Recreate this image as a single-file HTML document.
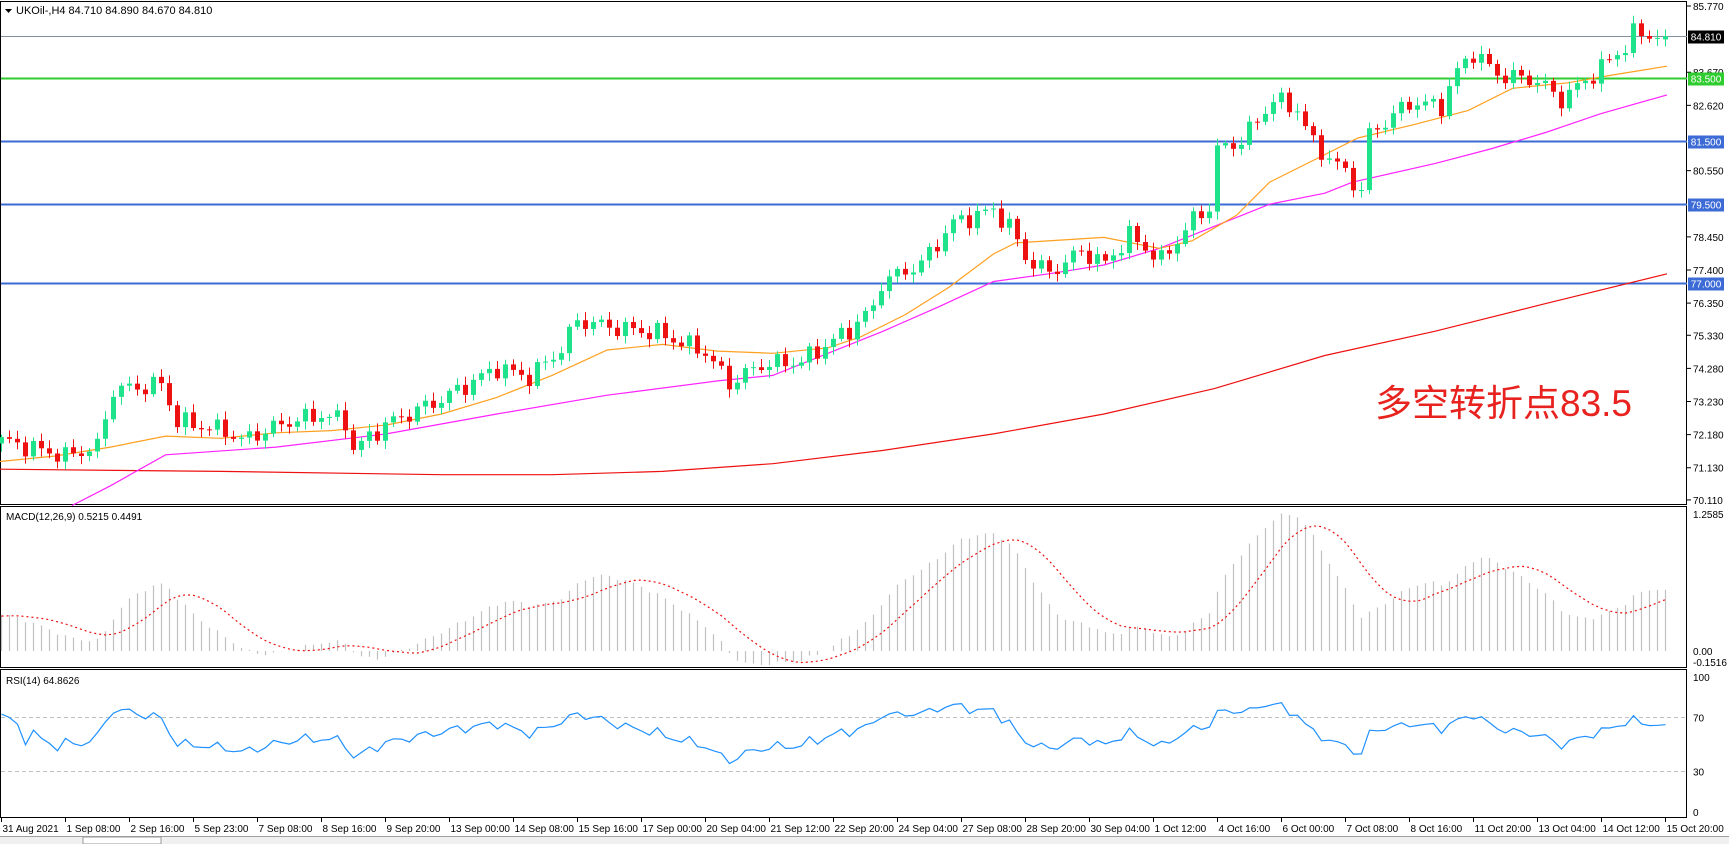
<!DOCTYPE html>
<html><head><meta charset="utf-8"><style>
html,body{margin:0;padding:0;background:#fff;width:1729px;height:844px;overflow:hidden}
svg{display:block;font-family:"Liberation Sans",Tahoma,sans-serif}
</style></head><body>
<svg id="s" width="1729" height="844" xmlns="http://www.w3.org/2000/svg">
<rect x="0" y="0" width="1729" height="844" fill="#fff"/>
</svg>
<script>
const S=document.getElementById('s');let h='';
const K=1.104;
function py(p){return 6+(85.77-p)*31.54;}
function interp(pts,x){for(let i=0;i<pts.length-1;i++){if(x<=pts[i+1][0]){const t=(x-pts[i][0])/(pts[i+1][0]-pts[i][0]);return pts[i][1]+t*(pts[i+1][1]-pts[i][1]);}}return pts[pts.length-1][1];}
const A=[[0,72.0],[8,71.5],[12,71.8],[14,73.6],[18,73.7],[20,73.8],[22,72.6],[28,72.3],[30,72.0],[36,72.6],[40,72.8],[43,72.6],[44,71.7],[48,72.5],[55,73.3],[62,74.3],[66,74.0],[70,74.9],[72,75.8],[76,75.6],[82,75.4],[88,74.8],[91,73.8],[95,74.4],[100,74.5],[106,75.5],[109,76.2],[110,77.0],[115,77.6],[119,78.9],[124,79.3],[126,78.8],[128,77.8],[131,77.3],[135,78.0],[138,77.6],[141,78.5],[145,77.7],[149,79.0],[151,79.4],[152,81.2],[155,81.5],[159,82.8],[162,82.5],[164,81.4],[168,80.5],[170,79.9],[171,81.7],[176,82.7],[180,82.6],[182,83.7],[184,84.3],[187,83.6],[192,83.4],[195,82.8],[199,83.6],[203,84.5],[204,84.9],[208,84.81]];
const N=209;const C=[],O=[],H=[],L=[];
for(let i=0;i<N;i++){let c=interp(A,i)+0.22*Math.sin(i*1.7)+0.12*Math.sin(i*3.3+1);if(i==208)c=84.81;C.push(c);}
for(let i=0;i<N;i++){let o=i?C[i-1]:71.9;if(i==208)o=84.71;O.push(o);H.push(Math.max(o,C[i])+0.08+0.18*Math.abs(Math.sin(i*2.3)));L.push(Math.min(o,C[i])-0.08-0.18*Math.abs(Math.cos(i*1.9)));}
const X=i=>1+8*i;
h+='<rect x="0.5" y="1.5" width="1686" height="503" fill="none" stroke="#000"/>';
h+='<rect x="0.5" y="506.5" width="1686" height="161" fill="none" stroke="#000"/>';
h+='<rect x="0.5" y="669.5" width="1686" height="148" fill="none" stroke="#000"/>';
function lvl(p,col,lab,bg,tc){const y=Math.round(py(p))+0.5;h+=`<line x1="1" x2="1687" y1="${y}" y2="${y}" stroke="${col}" stroke-width="${col=='#8090a0'?1:2}"/>`;if(lab){h+=`<rect x="1688" y="${y-6}" width="36" height="13" fill="${bg}"/><text x="1706" y="${y+4}" font-size="10" text-anchor="middle" fill="${tc}">${lab}</text>`;}}
[[85.77,'85.770'],[83.67,'83.670'],[82.62,'82.620'],[80.55,'80.550'],[78.45,'78.450'],[77.4,'77.400'],[76.35,'76.350'],[75.33,'75.330'],[74.28,'74.280'],[73.23,'73.230'],[72.18,'72.180'],[71.13,'71.130'],[70.11,'70.110']].forEach(a=>{const y=py(a[0]);h+=`<line x1="1687" x2="1691" y1="${y}" y2="${y}" stroke="#000"/><text x="1693" y="${y+4}" font-size="10" fill="#000">${a[1]}</text>`;});
lvl(84.81,'#8090a0','84.810','#000','#fff');
lvl(83.5,'#2ecc2e','83.500','#2ecc2e','#fff');
lvl(81.5,'#3d6bd6','81.500','#3d6bd6','#fff');
lvl(79.5,'#3d6bd6','79.500','#3d6bd6','#fff');
lvl(77.0,'#3d6bd6','77.000','#3d6bd6','#fff');
function poly(pts,col){h+=`<polyline fill="none" stroke="${col}" stroke-width="1.2" points="${pts.map(p=>(p[0]*K).toFixed(1)+','+(p[1]*K).toFixed(1)).join(' ')}"/>`;}
poly([[0,425],[200,427],[400,430],[500,430],[600,427],[700,420],[800,408],[900,393],[1000,375],[1100,352],[1200,322],[1300,300],[1400,275],[1510,248]],'#ee1111');
poly([[65,458],[100,440],[150,412],[250,405],[350,393],[450,375],[550,358],[650,345],[700,340],[750,320],[800,300],[850,278],[900,255],[950,248],[1000,240],[1050,225],[1100,205],[1150,185],[1200,175],[1225,165],[1300,148],[1350,135],[1400,120],[1450,103],[1510,86]],'#ff22ff');
poly([[0,418],[50,413],[100,405],[150,395],[200,397],[250,392],[300,390],[350,385],[400,375],[450,360],[500,340],[550,317],[600,312],[650,318],[700,320],[750,315],[780,305],[820,285],[860,260],[900,230],[920,220],[1000,215],[1050,225],[1080,218],[1120,195],[1150,165],[1200,140],[1230,125],[1280,113],[1330,100],[1370,80],[1420,75],[1460,68],[1510,60]],'#ffa020');
for(let i=0;i<N;i++){const x=X(i),up=C[i]>=O[i],col=up?'#1ee38a':'#ee1111';const y1=py(Math.max(O[i],C[i])),y2=py(Math.min(O[i],C[i]));h+=`<line x1="${x+.5}" x2="${x+.5}" y1="${py(H[i])}" y2="${py(L[i])}" stroke="${col}"/><rect x="${x-2}" y="${y1}" width="5" height="${Math.max(1,y2-y1)}" fill="${col}"/>`;}
h+='<path d="M5 9 L12 9 L8.5 13 Z" fill="#000"/><text x="16" y="14" font-size="11" fill="#000">UKOil-,H4  84.710 84.890 84.670 84.810</text>';
h+='<text x="1375" y="416" font-size="37" fill="#e8231f" font-family="Liberation Sans,Noto Sans CJK SC,sans-serif">多空转折点83.5</text>';
const W=[];for(let i=0;i<60;i++)W.push(69.2+i*0.047+0.15*Math.sin(i*1.3));const all=W.concat(C);
function ema(a,n){const k=2/(n+1);let e=a[0];return a.map(v=>e=v*k+e*(1-k));}
const e12=ema(all,12),e26=ema(all,26);const m=all.map((v,i)=>e12[i]-e26[i]);
const sig=m.map((v,i)=>{let s=0,c=0;for(let j=Math.max(0,i-8);j<=i;j++){s+=m[j];c++;}return s/c;});
const my=v=>651-v*108.9;
h+='<text x="6" y="520" font-size="10" fill="#000">MACD(12,26,9) 0.5215 0.4491</text>';
let sp=[];
for(let i=0;i<N;i++){const v=m[i+60],x=X(i)+.5;h+=`<line x1="${x}" x2="${x}" y1="651" y2="${my(v)}" stroke="#c0c0c0" stroke-width="1.2"/>`;sp.push(x+','+my(sig[i+60]).toFixed(1));}
h+=`<polyline fill="none" stroke="#ee1111" stroke-width="1.2" stroke-dasharray="2,3" points="${sp.join(' ')}"/>`;
[[514,'1.2585'],[651,'0.00'],[662,'-0.1516']].forEach(a=>{h+=`<text x="1693" y="${a[0]+4}" font-size="10" fill="#000">${a[1]}</text>`;});
const ry=v=>812-v*1.35;
h+='<text x="6" y="684" font-size="10" fill="#000">RSI(14) 64.8626</text>';
h+=`<line x1="1" x2="1686" y1="${ry(70)}" y2="${ry(70)}" stroke="#c0c0c0" stroke-dasharray="4,3"/><line x1="1" x2="1686" y1="${ry(30)}" y2="${ry(30)}" stroke="#c0c0c0" stroke-dasharray="4,3"/>`;
let ag=0,al=0;const rs=[];for(let i=1;i<all.length;i++){const d=all[i]-all[i-1];const g=Math.max(d,0),l=Math.max(-d,0);if(i<=14){ag+=g/14;al+=l/14;}else{ag=(ag*13+g)/14;al=(al*13+l)/14;}rs[i]=al==0?100:100-100/(1+ag/al);}
let rp=[];for(let i=0;i<N;i++)rp.push((X(i)+.5)+','+ry(rs[i+60]).toFixed(1));
h+=`<polyline fill="none" stroke="#1e90ff" stroke-width="1.2" points="${rp.join(' ')}"/>`;
[[100,'100'],[70,'70'],[30,'30'],[0,'0']].forEach(a=>{h+=`<text x="1693" y="${ry(a[0])+4}" font-size="10" fill="#000">${a[1]}</text>`;});
const T=['31 Aug 2021','1 Sep 08:00','2 Sep 16:00','5 Sep 23:00','7 Sep 08:00','8 Sep 16:00','9 Sep 20:00','13 Sep 00:00','14 Sep 08:00','15 Sep 16:00','17 Sep 00:00','20 Sep 04:00','21 Sep 12:00','22 Sep 20:00','24 Sep 04:00','27 Sep 08:00','28 Sep 20:00','30 Sep 04:00','1 Oct 12:00','4 Oct 16:00','6 Oct 00:00','7 Oct 08:00','8 Oct 16:00','11 Oct 20:00','13 Oct 04:00','14 Oct 12:00','15 Oct 20:00'];
T.forEach((t,k)=>{const x=1.5+64*k;h+=`<line x1="${x}" x2="${x}" y1="818" y2="822" stroke="#000"/><text x="${x+1}" y="832" font-size="10" fill="#000">${t}</text>`;});
h+='<rect x="0" y="836" width="1729" height="8" fill="#f0f0f0"/><line x1="0" x2="1729" y1="836.5" y2="836.5" stroke="#a0a0a0"/><rect x="83" y="837" width="78" height="7" fill="#fff" stroke="#999"/>';
S.innerHTML+=h;
</script>
</body></html>
